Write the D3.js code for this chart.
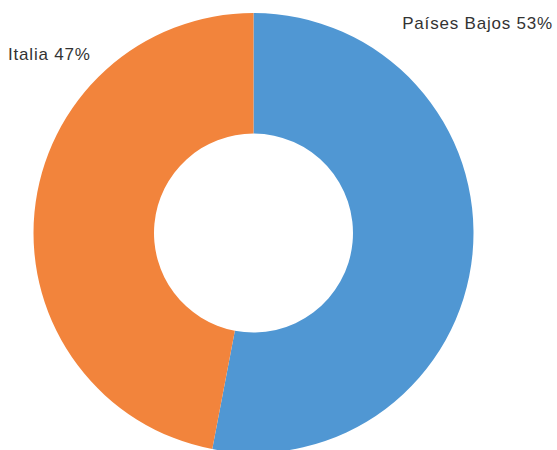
<!DOCTYPE html>
<html>
<head>
<meta charset="utf-8">
<script src="https://d3js.org/d3.v7.min.js"></script>
<style>
  body { margin: 0; background: #fff; }
  text { font-family: "Liberation Sans", Arial, sans-serif; }
</style>
</head>
<body>
<script>

  var categories = ["Países Bajos", "Italia"];
  var values = [53, 47];
  var colors = ["#5097d3", "#f2843c"];

  var width = 557, height = 450;
  var cx = 253.5, cy = 233;
  var outer = 220, inner = 99.5;

  var svg = d3.select("body").append("svg")
    .attr("width", width)
    .attr("height", height);

  var pie = d3.pie().sort(null).value(function(d) { return d; });
  var arc = d3.arc().innerRadius(inner).outerRadius(outer);

  var g = svg.append("g")
    .attr("transform", "translate(" + cx + "," + cy + ")");

  g.selectAll("path")
    .data(pie(values))
    .enter().append("path")
    .attr("d", arc)
    .attr("fill", function(d, i) { return colors[i]; });

  // label positions
  var labelPos = [
    { x: 553, y: 29, anchor: "end" },
    { x: 8, y: 60, anchor: "start" }
  ];

  svg.selectAll("text.lbl")
    .data(categories)
    .enter().append("text")
    .attr("class", "lbl")
    .attr("x", function(d, i) { return labelPos[i].x; })
    .attr("y", function(d, i) { return labelPos[i].y; })
    .attr("text-anchor", function(d, i) { return labelPos[i].anchor; })
    .attr("font-size", 17)
    .attr("letter-spacing", 0.8)
    .attr("fill", "#333")
    .text(function(d, i) { return d + " " + values[i] + "%"; });

</script>
</body>
</html>
